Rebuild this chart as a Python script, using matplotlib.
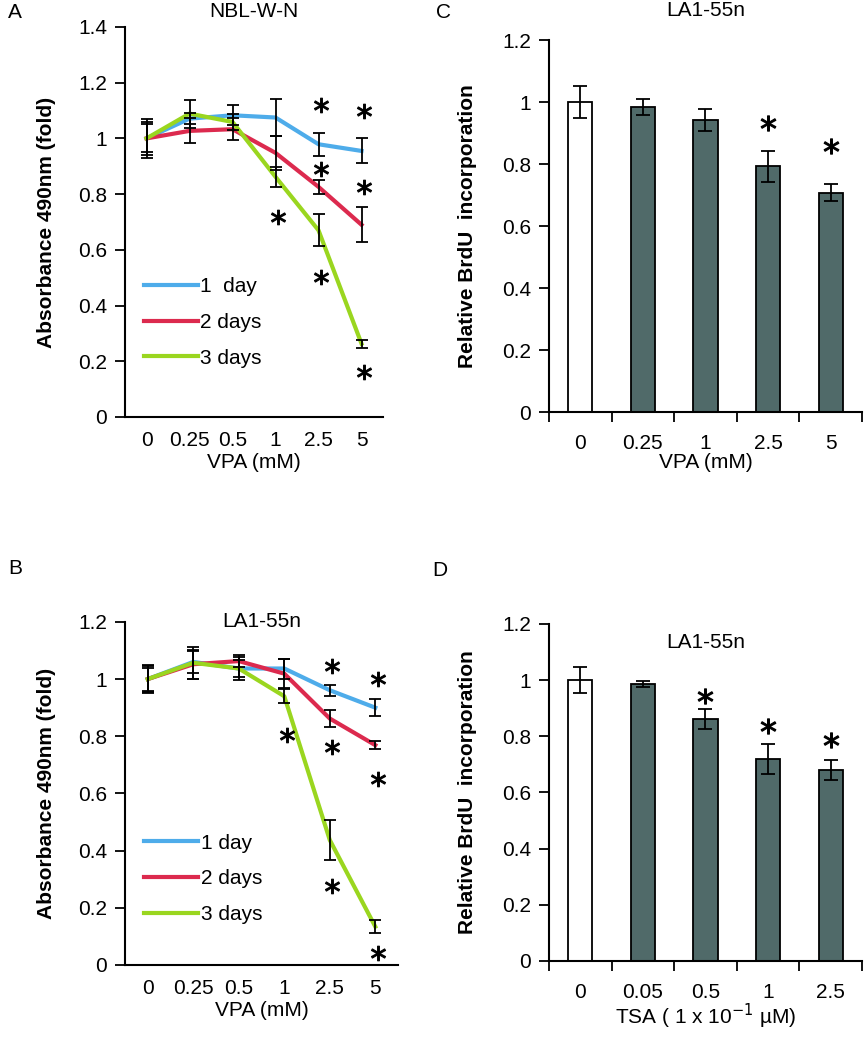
import matplotlib.pyplot as plt

plt.rcParams['font.family'] = ['Liberation Sans', 'DejaVu Sans']

# ---- data ----
vpa_line_labels = ["0", "0.25", "0.5", "1", "2.5", "5"]

# Panel A: NBL-W-N
a_day1 = [1.0, 1.071, 1.083, 1.075, 0.979, 0.955]
a_day1_err = [0.05, 0.02, 0.036, 0.065, 0.042, 0.045]
a_day2 = [1.0, 1.027, 1.033, 0.948, 0.826, 0.69]
a_day2_err = [0.07, 0.045, 0.04, 0.06, 0.025, 0.063]
a_day3 = [1.0, 1.089, 1.059, 0.862, 0.67, 0.263]
a_day3_err = [0.06, 0.05, 0.03, 0.035, 0.058, 0.015]
a_star_x = [3, 4, 4, 4, 5, 5, 5]
a_star_y = [0.718, 1.119, 0.891, 0.503, 1.10, 0.826, 0.162]

# Panel B: LA1-55n
b_day1 = [1.0, 1.06, 1.037, 1.037, 0.961, 0.90]
b_day1_err = [0.045, 0.04, 0.03, 0.035, 0.02, 0.03]
b_day2 = [1.0, 1.052, 1.063, 1.019, 0.862, 0.769]
b_day2_err = [0.05, 0.05, 0.02, 0.05, 0.03, 0.015]
b_day3 = [1.0, 1.057, 1.037, 0.94, 0.437, 0.134]
b_day3_err = [0.04, 0.055, 0.04, 0.025, 0.07, 0.023]
b_star_x = [3, 4, 4, 4, 5, 5, 5]
b_star_y = [0.804, 1.045, 0.763, 0.276, 1.002, 0.652, 0.043]

# Panel C: BrdU, VPA
c_labels = ["0", "0.25", "1", "2.5", "5"]
c_vals = [1.0, 0.983, 0.942, 0.792, 0.708]
c_err = [0.052, 0.026, 0.035, 0.05, 0.028]
c_star_x = [3, 4]
c_star_y = [0.931, 0.859]

# Panel D: BrdU, TSA
d_labels = ["0", "0.05", "0.5", "1", "2.5"]
d_vals = [1.0, 0.987, 0.861, 0.72, 0.681]
d_err = [0.045, 0.01, 0.036, 0.054, 0.036]
d_star_x = [2, 3, 4]
d_star_y = [0.942, 0.838, 0.788]

BLUE = "#4eacea"
RED = "#dc2a4e"
GREEN = "#9ad61f"
BAR = "#506a69"
FS = 15


def style_axes(ax):
    for s in ["top", "right"]:
        ax.spines[s].set_visible(False)
    for s in ["left", "bottom"]:
        ax.spines[s].set_linewidth(1.5)
    ax.tick_params(axis="y", direction="out", length=7, width=1.3, labelsize=FS, pad=6)


def line_panel(ax, d1, e1, d2, e2, d3, e3, sx, sy, ymax, title, title_y, leg_y, d1_label):
    x = list(range(len(vpa_line_labels)))
    for vals, err, col, lab in [(d1, e1, BLUE, d1_label), (d2, e2, RED, "2 days"), (d3, e3, GREEN, "3 days")]:
        ax.plot(x, vals, color=col, lw=3, label=lab, zorder=3)
        ax.errorbar(x, vals, yerr=err, fmt="none", ecolor="black", elinewidth=1.3,
                    capsize=4, capthick=1.3, zorder=4)
    ax.scatter([v + 0.05 for v in sx], sy, marker="$*$", s=110, color="black",
               linewidths=0.8, zorder=5)
    ax.set_xlim(-0.5, 5.5)
    ax.set_ylim(0, ymax)
    n = int(round(ymax / 0.2)) + 1
    ax.set_yticks([i * 0.2 for i in range(n)])
    ax.set_yticklabels(["0", "0.2", "0.4", "0.6", "0.8", "1", "1.2", "1.4"][:n])
    ax.set_xticks(x)
    ax.set_xticklabels(vpa_line_labels, fontsize=FS)
    ax.tick_params(axis="x", length=0, pad=10)
    style_axes(ax)
    ax.set_xlabel("VPA (mM)", fontsize=FS, labelpad=2)
    ax.set_ylabel("Absorbance 490nm (fold)", fontsize=FS, fontweight="bold", labelpad=16)
    ax.text(0.5, title_y, title, transform=ax.transAxes, ha="center", va="center", fontsize=FS)
    ax.legend(loc="lower left", bbox_to_anchor=(0.04, leg_y), frameon=False, fontsize=FS,
              handlelength=2.6, handletextpad=0.1, labelspacing=0.8, borderaxespad=0)


def bar_panel(ax, labels, vals, err, sx, sy, title, title_y, xlabel):
    x = list(range(len(labels)))
    colors = ["white"] + [BAR] * (len(labels) - 1)
    ax.bar(x, vals, width=0.39, color=colors, edgecolor="black", linewidth=1.3, zorder=2)
    ax.errorbar(x, vals, yerr=err, fmt="none", ecolor="black", elinewidth=1.3,
                capsize=5, capthick=1.3, zorder=3)
    ax.scatter(sx, sy, marker="$*$", s=120, color="black", linewidths=0.8, zorder=4)
    ax.set_xlim(-0.5, len(labels) - 0.5)
    ax.set_ylim(0, 1.2)
    ax.set_yticks([0, 0.2, 0.4, 0.6, 0.8, 1.0, 1.2])
    ax.set_yticklabels(["0", "0.2", "0.4", "0.6", "0.8", "1", "1.2"])
    ax.set_xticks([i - 0.5 for i in range(len(labels) + 1)])
    ax.set_xticklabels([])
    ax.set_xticks(x, minor=True)
    ax.set_xticklabels(labels, minor=True, fontsize=FS)
    ax.tick_params(axis="x", which="major", direction="out", length=7, width=1.3)
    ax.tick_params(axis="x", which="minor", length=0, pad=16)
    style_axes(ax)
    ax.set_xlabel(xlabel, fontsize=FS, labelpad=0)
    ax.set_ylabel("Relative BrdU  incorporation", fontsize=FS, fontweight="bold", labelpad=18)
    ax.text(0.5, title_y, title, transform=ax.transAxes, ha="center", va="center", fontsize=FS)


fig = plt.figure(figsize=(8.64, 10.5), dpi=100)
axA = fig.add_axes([0.1447, 0.6029, 0.2986, 0.3714])
axC = fig.add_axes([0.6354, 0.6076, 0.3623, 0.3543])
axB = fig.add_axes([0.1447, 0.0810, 0.3160, 0.3267])
axD = fig.add_axes([0.6354, 0.0848, 0.3623, 0.3210])

line_panel(axA, a_day1, a_day1_err, a_day2, a_day2_err, a_day3, a_day3_err,
           a_star_x, a_star_y, 1.4, "NBL-W-N", 1.04, 0.105, "1  day")
line_panel(axB, b_day1, b_day1_err, b_day2, b_day2_err, b_day3, b_day3_err,
           b_star_x, b_star_y, 1.2, "LA1-55n", 1.0, 0.095, "1 day")
bar_panel(axC, c_labels, c_vals, c_err, c_star_x, c_star_y, "LA1-55n", 1.08, "VPA (mM)")
bar_panel(axD, d_labels, d_vals, d_err, d_star_x, d_star_y, "LA1-55n", 0.945,
          "TSA ( 1 x 10$^{-1}$ µM)")

fig.text(8 / 864, 1 - 12 / 1050, "A", fontsize=FS, va="center", ha="left")
fig.text(436 / 864, 1 - 12 / 1050, "C", fontsize=FS, va="center", ha="left")
fig.text(8 / 864, 1 - 568 / 1050, "B", fontsize=FS, va="center", ha="left")
fig.text(432 / 864, 1 - 570 / 1050, "D", fontsize=FS, va="center", ha="left")

fig.savefig("out.png", dpi=100, facecolor="white")
